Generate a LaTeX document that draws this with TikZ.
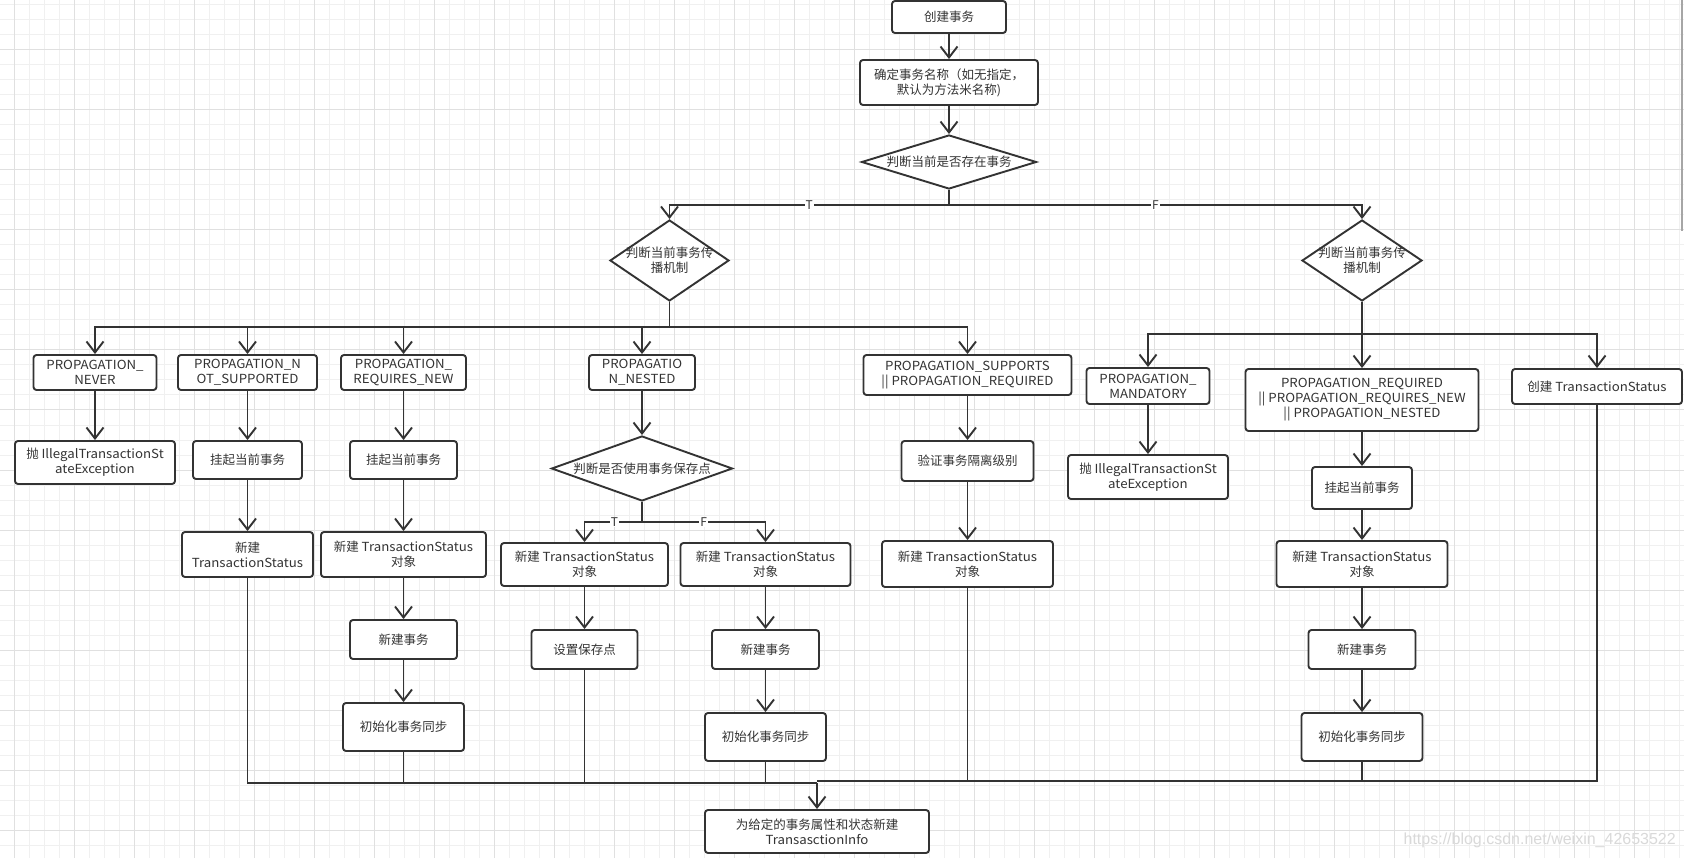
\documentclass[tikz,border=0pt]{standalone}
\usepackage{fontspec}
\setmainfont{Noto Sans CJK SC}
\newfontfamily\lat[FakeStretch=1.06]{Noto Sans CJK SC}
\newfontfamily\wmfont{Liberation Sans}
\newcommand\La[1]{{\lat #1}}
\usetikzlibrary{arrows.meta,shapes.geometric}
\definecolor{ln}{HTML}{333333}
\definecolor{gridminor}{HTML}{F0F0F0}
\definecolor{gridmajor}{HTML}{E0E0E0}
\newcommand\bx[6]{\node[box, minimum width=#4pt, minimum height=#5pt] (#1) at (#2,#3) {#6};}
\begin{document}
\begin{tikzpicture}[x=1pt,y=-1pt,
  box/.style={draw=ln, line width=1.9pt, rounded corners=3pt, fill=white, inner sep=0pt, align=center, text=ln, font=\fontsize{12.5}{15}\selectfont},
  dia/.style={draw=ln, line width=1.9pt, diamond, fill=white, inner sep=0pt},
  txt/.style={align=center, text=ln, font=\fontsize{12.5}{15}\selectfont, inner sep=0pt},
  line/.style={draw=ln, line width=1.9pt},
  arr/.style={line, -{Straight Barb[length=11pt,width=17pt]}},
  lbl/.style={fill=white, inner sep=1pt, text=ln, font=\fontsize{12}{12}\selectfont}
]
\useasboundingbox (0,0) rectangle (1684,858);
\fill[white] (0,0) rectangle (1684,858);
% grid
\foreach \x in {14,29,...,1684} \draw[gridminor, line width=1pt] (\x,0) -- (\x,858);
\foreach \y in {5,20,...,858} \draw[gridminor, line width=1pt] (0,\y) -- (1684,\y);
\foreach \x in {14,74,...,1684} \draw[gridmajor, line width=1pt] (\x,0) -- (\x,858);
\foreach \y in {50,110,...,858} \draw[gridmajor, line width=1pt] (0,\y) -- (1684,\y);
\draw[gray!70, line width=1.5pt] (1682,0) -- (1682,231);

% top
\bx{b1}{949}{17}{114}{32}{创建事务}
\bx{b2}{949}{82.5}{178}{45}{确定事务名称（如无指定，\\默认为方法米名称)}
\node[dia, minimum width=175pt, minimum height=54pt] (d1) at (949,162) {};
\node[txt] at (d1) {判断当前是否存在事务};
\node[dia, minimum width=119pt, minimum height=81pt] (d2L) at (669.5,260.5) {};
\node[txt] at (d2L) {判断当前事务传\\播机制};
\node[dia, minimum width=120pt, minimum height=81pt] (d2R) at (1362,260.5) {};
\node[txt] at (d2R) {判断当前事务传\\播机制};

% row 1
\bx{never}{95}{372.5}{123}{35}{\La{PROPAGATION\_}\\\La{NEVER}}
\bx{notsup}{247.5}{372.5}{139}{35}{\La{PROPAGATION\_N}\\\La{OT\_SUPPORTED}}
\bx{reqnew}{403.5}{372.5}{125}{35}{\La{PROPAGATION\_}\\\La{REQUIRES\_NEW}}
\bx{nested}{642}{372.5}{106}{35}{\La{PROPAGATIO}\\\La{N\_NESTED}}
\bx{supports}{967.5}{375}{208}{40}{\La{PROPAGATION\_SUPPORTS}\\\La{|| PROPAGATION\_REQUIRED}}
\bx{mand}{1148}{386}{123}{36}{\La{PROPAGATION\_}\\\La{MANDATORY}}
\bx{required}{1362}{400}{233}{62}{\La{PROPAGATION\_REQUIRED}\\\La{|| PROPAGATION\_REQUIRES\_NEW}\\\La{|| PROPAGATION\_NESTED}}
\bx{create}{1597}{386.5}{170}{35}{创建 \La{TransactionStatus}}

% row 2
\bx{ill1}{95}{462.5}{160}{43}{抛 \La{IllegalTransactionSt}\\\La{ateException}}
\bx{sus2}{247.5}{460}{109}{38}{挂起当前事务}
\bx{sus3}{403.5}{460}{107}{38}{挂起当前事务}
\node[dia, minimum width=181pt, minimum height=65pt] (d3) at (642,468.5) {};
\node[txt] at (d3) {判断是否使用事务保存点};
\bx{verify}{967.5}{461}{132}{40}{验证事务隔离级别}
\bx{ill2}{1148}{477}{160}{44}{抛 \La{IllegalTransactionSt}\\\La{ateException}}
\bx{sus6}{1362}{488}{100}{42}{挂起当前事务}

% row 3
\bx{ts2}{247.5}{554.5}{131}{45}{新建\\\La{TransactionStatus}}
\bx{ts3}{403.5}{554.5}{165}{45}{新建 \La{TransactionStatus}\\对象}
\bx{tsT}{584.5}{564.5}{167}{43}{新建 \La{TransactionStatus}\\对象}
\bx{tsF}{765.5}{564.5}{170}{43}{新建 \La{TransactionStatus}\\对象}
\bx{ts5}{967.5}{564}{171}{46}{新建 \La{TransactionStatus}\\对象}
\bx{ts6}{1362}{564}{171}{46}{新建 \La{TransactionStatus}\\对象}

% row 4
\bx{new3}{403.5}{639.5}{107}{39}{新建事务}
\bx{save}{584.5}{649.5}{106}{39}{设置保存点}
\bx{newF}{765.5}{649.5}{107}{39}{新建事务}
\bx{new6}{1362}{649.5}{107}{39}{新建事务}

% row 5
\bx{init3}{403.5}{727}{121}{48}{初始化事务同步}
\bx{initF}{765.5}{737}{121}{48}{初始化事务同步}
\bx{init6}{1362}{737}{121}{48}{初始化事务同步}
\bx{final}{817}{831.5}{224}{43}{为给定的事务属性和状态新建\\\La{TransasctionInfo}}

% junctions
\coordinate (j1) at (949,205);
\coordinate (j2L) at (669.5,327);
\coordinate (j2R) at (1362,334);
\coordinate (j3) at (642,522);
\coordinate (mL) at (817,783);
\coordinate (mR) at (817,781);

% edges
\draw[arr] (b1) -- (b2);
\draw[arr] (b2) -- (d1);
\draw[line] (d1.south) -- (j1);
\draw[arr] (j1) -| node[lbl,pos=.25]{T} (d2L);
\draw[arr] (j1) -| node[lbl,pos=.25]{F} (d2R);

\draw[line] (d2L.south) -- (j2L);
\foreach \n in {never,notsup,reqnew,nested,supports} \draw[arr] (j2L) -| (\n);
\draw[line] (d2R.south) -- (j2R);
\foreach \n in {mand,required,create} \draw[arr] (j2R) -| (\n);

\draw[arr] (never) -- (ill1);
\draw[arr] (notsup) -- (sus2);
\draw[arr] (sus2) -- (ts2);
\draw[arr] (reqnew) -- (sus3);
\draw[arr] (sus3) -- (ts3);
\draw[arr] (ts3) -- (new3);
\draw[arr] (new3) -- (init3);
\draw[arr] (nested) -- (d3);
\draw[line] (d3.south) -- (j3);
\draw[arr] (j3) -| node[lbl,pos=.24]{T} (tsT);
\draw[arr] (j3) -| node[lbl,pos=.25]{F} (tsF);
\draw[arr] (tsT) -- (save);
\draw[arr] (tsF) -- (newF);
\draw[arr] (newF) -- (initF);
\draw[arr] (supports) -- (verify);
\draw[arr] (verify) -- (ts5);
\draw[arr] (mand) -- (ill2);
\draw[arr] (required) -- (sus6);
\draw[arr] (sus6) -- (ts6);
\draw[arr] (ts6) -- (new6);
\draw[arr] (new6) -- (init6);

% merge
\foreach \n in {ts2,init3,save,initF} \draw[line] (\n) |- (mL);
\foreach \n in {ts5,init6,create} \draw[line] (\n) |- (mR);
\draw[arr] (mL) -- (final);

\node[font=\wmfont\fontsize{16}{16}\selectfont, text=gray!30, anchor=east, inner sep=0pt] (wm) at (1676,840) {https://blog.csdn.net/weixin\_42653522};
\end{tikzpicture}
\end{document}
